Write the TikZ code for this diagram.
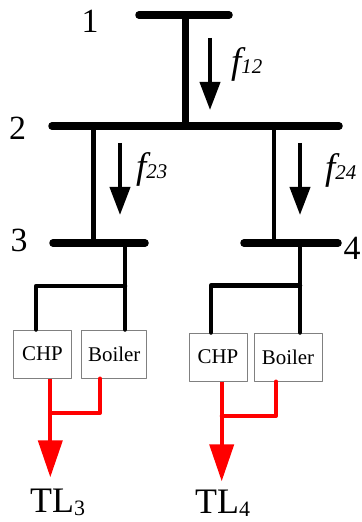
\documentclass[tikz,border=0pt]{standalone}
\usepackage{fontspec}
\setmainfont{Liberation Serif}
\usetikzlibrary{arrows.meta}
\newcommand\flowlabel[1]{{\fontsize{37}{37}\selectfont\itshape f\fontsize{21}{21}\selectfont #1}}
\newcommand\loadlabel[1]{{\fontsize{36}{36}\selectfont TL\raisebox{-3bp}{\fontsize{22}{22}\selectfont #1}}}
\begin{document}
\begin{tikzpicture}[x=1bp, y=-1bp, line join=round, line cap=round,
    bus/.style={line width=7.5bp},
    link/.style={line width=4.5bp},
    flow/.style={line width=4bp, line cap=butt, -{Triangle[length=28bp,width=20bp]}},
    heat/.style={red, line width=4bp},
    heatarrow/.style={heat, line cap=butt, -{Triangle[length=37bp,width=24bp]}},
    unit/.style={draw=gray, line width=1bp, minimum height=48bp, inner sep=0pt, font=\fontsize{21}{21}\selectfont},
    busno/.style={inner sep=0pt, font=\fontsize{34}{34}\selectfont}]
    \useasboundingbox (0,0) rectangle (361,522);
    % buses
    \foreach \n/\a/\b/\y in {1/139/229/15, 2/52/339/126, 3/53/145/243, 4/244/338/243}
        \draw[bus] (\a,\y) coordinate (b\n w) -- (\b,\y) coordinate (b\n e);
    \node[busno] (n1) at (90,21.5) {1};
    \node[busno] (n2) at (17.5,128) {2};
    \node[busno] (n3) at (19,240) {3};
    \node[busno] (n4) at (352,248) {4};
    % lines between buses
    \coordinate (t12) at (185,15);
    \coordinate (t23) at (93.3,126);
    \coordinate (t24) at (274,126);
    \draw[bus, line width=7bp] (t12) -- (t12 |- b2w);
    \draw[link] (t23) -- (t23 |- b3w);
    \draw[link] (t24) -- (t24 |- b4w);
    % power flows
    \foreach \n/\x/\y in {12/210/38, 23/120/143, 24/300/143}
        \draw[flow] (\x,\y) coordinate (a\n) -- ++(0,72);
    \node[anchor=base west, inner sep=0pt] (f12) at (231,74) {\flowlabel{12}};
    \node[anchor=base west, inner sep=0pt] (f23) at (136,178.5) {\flowlabel{23}};
    \node[anchor=base west, inner sep=0pt] (f24) at (325,180) {\flowlabel{24}};
    % units
    \node[unit, minimum width=57bp] (chp3) at (42.5,354) {CHP};
    \node[unit, minimum width=65bp] (boiler3) at (114.3,354) {Boiler};
    \node[unit, minimum width=58bp] (chp4) at (218,357) {CHP};
    \node[unit, minimum width=68bp] (boiler4) at (288,357) {Boiler};
    % feeders
    \coordinate (t3) at (125,243);
    \coordinate (k3) at (36,286);
    \coordinate (t4) at (300,243);
    \coordinate (k4) at (211,285.5);
    \draw[link] (t3) -- (t3 |- boiler3.north);
    \draw[link] (t3 |- k3) -- (k3) -- (k3 |- chp3.north);
    \draw[link] (t4) -- (t4 |- boiler4.north);
    \draw[link] (t4 |- k4) -- (k4) -- (k4 |- chp4.north);
    % heat loads
    \node[anchor=base west, inner sep=0pt] (tl3) at (30,512) {\loadlabel{3}};
    \node[anchor=base west, inner sep=0pt] (tl4) at (195,513) {\loadlabel{4}};
    \coordinate (m3) at (50.3,413);
    \coordinate (r3) at (100,413);
    \coordinate (m4) at (221.7,416);
    \coordinate (r4) at (276,416);
    \draw[heat] (r3 |- boiler3.south) -- (r3) -- (m3);
    \draw[heatarrow, shorten >=11bp] (m3 |- chp3.south) -- (m3 |- tl3.north);
    \draw[heat] (r4 |- boiler4.south) -- (r4) -- (m4);
    \draw[heatarrow, shorten >=8bp] (m4 |- chp4.south) -- (m4 |- tl4.north);
\end{tikzpicture}
\end{document}
